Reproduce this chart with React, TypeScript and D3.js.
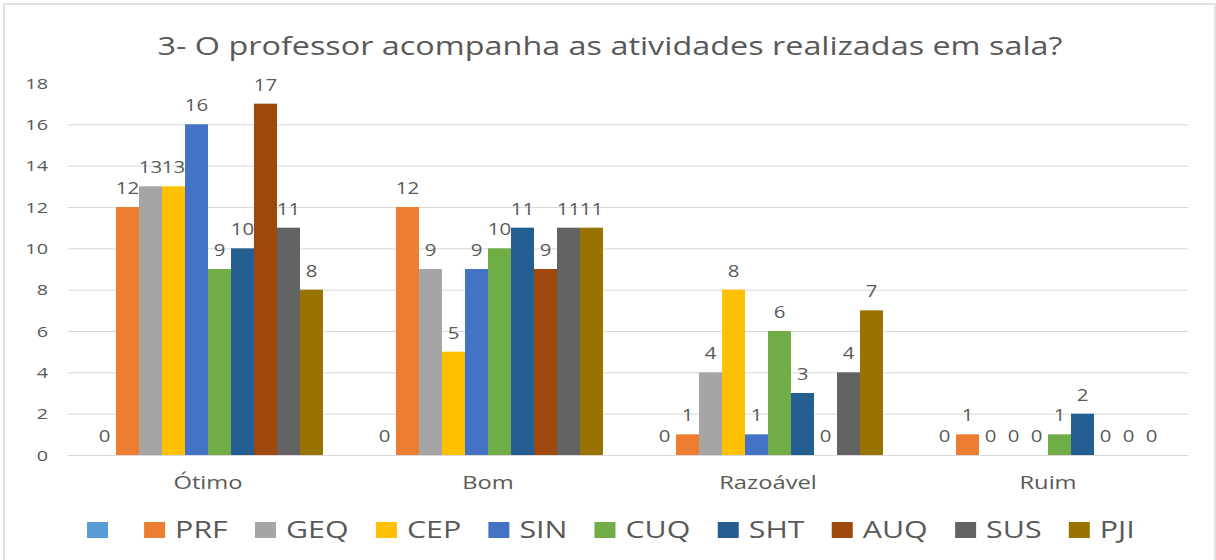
import React from "react";
import * as d3 from "d3";

const categories = ["Ótimo", "Bom", "Razoável", "Ruim"];
const seriesNames = ["", "PRF", "GEQ", "CEP", "SIN", "CUQ", "SHT", "AUQ", "SUS", "PJI"];
const s0 = [0, 0, 0, 0];
const PRF = [12, 12, 1, 1];
const GEQ = [13, 9, 4, 0];
const CEP = [13, 5, 8, 0];
const SIN = [16, 9, 1, 0];
const CUQ = [9, 10, 6, 1];
const SHT = [10, 11, 3, 2];
const AUQ = [17, 9, 0, 0];
const SUS = [11, 11, 4, 0];
const PJI = [8, 11, 7, 0];
const seriesValues = [s0, PRF, GEQ, CEP, SIN, CUQ, SHT, AUQ, SUS, PJI];
const colors = ["#5B9BD5", "#ED7D31", "#A5A5A5", "#FFC000", "#4472C4", "#70AD47", "#255E91", "#9E480E", "#636363", "#997300"];
const yTicks = [0, 2, 4, 6, 8, 10, 12, 14, 16, 18];
const title = "3- O professor acompanha as atividades realizadas em sala?";

const W = 1216, H = 560;
const plot = { left: 68, right: 1188, top: 83, bottom: 455 };
const SX = 1.32;
const FONT = "'Open Sans', 'Noto Sans', sans-serif";
const TXT = "#595959";

function measure(text: string, size: number) {
  const c = document.createElement("canvas").getContext("2d")!;
  c.font = `${size}px 'Open Sans'`;
  return c.measureText(text).width;
}

function SText({ x, y, size, children, anchor = "middle" }: any) {
  return (
    <text transform={`translate(${x},${y}) scale(${SX},1)`} fontSize={size} fontFamily={FONT} fill={TXT} textAnchor={anchor}>
      {children}
    </text>
  );
}

export default function App() {
  const x0 = d3.scaleBand<string>().domain(categories).range([plot.left, plot.right]).paddingInner(0).paddingOuter(0);
  const x1 = d3.scaleBand<string>().domain(seriesNames.map((_, i) => String(i))).range([0, x0.bandwidth()]).paddingInner(0).paddingOuter(1.087);
  const y = d3.scaleLinear().domain([0, 18]).range([plot.bottom, plot.top]);

  // legend layout
  const legSize = 23;
  const sqW = 21, sqH = 16, gapT = 10, gapItem = 25;
  const widths = seriesNames.map((n) => (n ? measure(n, legSize) * SX : 0));
  const itemW = widths.map((w) => sqW + gapT + w + gapItem);
  const total = d3.sum(itemW) - gapItem;
  let cursor = 87;
  const scaleLeg = (1136 - 87) / total;
  const legendItems = seriesNames.map((n, i) => {
    const it = { x: cursor, name: n, color: colors[i] };
    cursor += itemW[i] * scaleLeg;
    return it;
  });

  return (
    <svg width={W} height={H} style={{ position: "absolute", left: 0, top: 0, background: "#fff" }}>
      <rect x={0} y={0} width={W} height={H} fill="#fff" />
      <rect x={4} y={4} width={1211} height={H} fill="none" stroke="#d9d9d9" strokeWidth={1.5} />
      <text x={610} y={55} fontSize={26} fontFamily={FONT} fill={TXT} textAnchor="middle" textLength={905} lengthAdjust="spacingAndGlyphs">
        {title}
      </text>
      {yTicks.filter((t) => t < 18).map((t) => (
        <line key={t} x1={plot.left} x2={plot.right} y1={y(t) + 0.5} y2={y(t) + 0.5} stroke="#d9d9d9" strokeWidth={1} />
      ))}
      {yTicks.map((t) => (
        <SText key={t} x={48} y={y(t) + 5.5} size={15} anchor="end">{t}</SText>
      ))}
      {categories.map((c, ci) => (
        <g key={c}>
          {seriesValues.map((vals, si) => {
            const bx = x0(c)! + x1(String(si))!;
            const v = vals[ci];
            return (
              <g key={si}>
                <rect x={bx} y={y(v)} width={x1.bandwidth()} height={y(0) - y(v)} fill={colors[si]} />
                <SText x={bx + x1.bandwidth() / 2} y={y(v) - 13} size={15.5}>{v}</SText>
              </g>
            );
          })}
          <SText x={x0(c)! + x0.bandwidth() / 2} y={489} size={18}>{c}</SText>
        </g>
      ))}
      {legendItems.map((it, i) => (
        <g key={i}>
          <rect x={it.x} y={522} width={sqW} height={sqH} fill={it.color} />
          {it.name && <SText x={it.x + sqW + gapT} y={538} size={legSize} anchor="start">{it.name}</SText>}
        </g>
      ))}
    </svg>
  );
}
